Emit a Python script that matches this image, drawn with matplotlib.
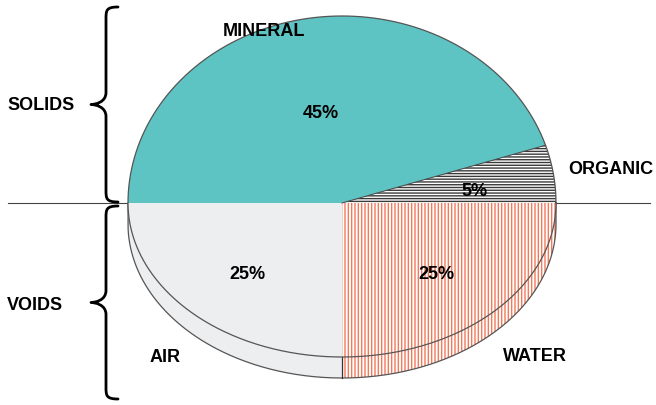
import numpy as np
import matplotlib
matplotlib.use("Agg")
import matplotlib.pyplot as plt
from matplotlib.patches import Polygon, PathPatch
from matplotlib.path import Path

# Soil composition by volume, listed counter-clockwise from the 3 o'clock position
categories = ["ORGANIC", "MINERAL", "AIR", "WATER"]
shares = [5, 45, 25, 25]
groups = ["SOLIDS", "VOIDS"]

# Styling / layout (pixel coordinates, y grows downward)
W, H = 656, 406
CX, CY = 342, 204          # pie centre
A = 214                    # horizontal semi-axis
B_UP, B_LO = 187, 154      # vertical semi-axes of upper / lower half
DEPTH = 21                 # visible thickness of the disc
EDGE = "#555555"
FONT = dict(family=["Liberation Sans", "DejaVu Sans"], weight="bold", size=13)

styles = {
    "ORGANIC": dict(facecolor="white", edgecolor="#3a3a3a", hatch="------"),
    "MINERAL": dict(facecolor="#5ec4c3", edgecolor="#5ec4c3", hatch=None),
    "AIR": dict(facecolor="#eceeef", edgecolor="#eceeef", hatch=None),
    "WATER": dict(facecolor="white", edgecolor="#f2795a", hatch="|||||"),
}
name_pos = {"ORGANIC": (568, 170, "left"), "MINERAL": (264, 32, "center"),
            "AIR": (165, 358, "center"), "WATER": (503, 357, "left")}
pct_pos = {"ORGANIC": (474, 192), "MINERAL": (321, 113),
           "AIR": (247, 275), "WATER": (436, 275)}
group_pos = {"SOLIDS": (7, 106, 8, 203), "VOIDS": (7, 306, 207, 400)}

plt.rcParams["hatch.linewidth"] = 1.0


def rim(theta_deg, dy=0.0):
    t = np.radians(theta_deg)
    s = np.sin(t)
    b = np.where(s >= 0, B_UP, B_LO)
    return CX + A * np.cos(t), CY - b * s + dy


fig = plt.figure(figsize=(W / 100, H / 100), dpi=100)
ax = fig.add_axes([0, 0, 1, 1])
ax.set_xlim(0, W)
ax.set_ylim(H, 0)
ax.axis("off")

# horizontal dividing line between solids and voids
ax.plot([8, 650], [CY, CY], color="#444444", lw=0.8, zorder=1)

bounds = np.concatenate([[0], np.cumsum(shares)]) / np.sum(shares) * 360.0

# side of the disc (only the lower, front half is visible)
for name, t0, t1 in zip(categories, bounds[:-1], bounds[1:]):
    lo, hi = max(t0, 180.0), min(t1, 360.0)
    if hi <= lo:
        continue
    th = np.linspace(lo, hi, 120)
    xt, yt = rim(th)
    xb, yb = rim(th[::-1], DEPTH)
    pts = np.column_stack([np.concatenate([xt, xb]), np.concatenate([yt, yb])])
    st = styles[name]
    ax.add_patch(Polygon(pts, closed=True, facecolor=st["facecolor"],
                         edgecolor=st["edgecolor"], hatch=st["hatch"],
                         lw=0, zorder=2))

# outline of the side
th = np.linspace(180, 360, 300)
xb, yb = rim(th, DEPTH)
ax.plot(np.concatenate([[CX - A], xb, [CX + A]]),
        np.concatenate([[CY], yb, [CY]]), color=EDGE, lw=0.9, zorder=3)
xd, yd = rim(np.array([270.0]))
ax.plot([xd[0], xd[0]], [yd[0], yd[0] + DEPTH], color="#333333", lw=0.9, zorder=3)

# top face wedges
for name, t0, t1, v in zip(categories, bounds[:-1], bounds[1:], shares):
    th = np.linspace(t0, t1, 200)
    xs, ys = rim(th)
    pts = np.column_stack([np.concatenate([[CX], xs]), np.concatenate([[CY], ys])])
    st = styles[name]
    ax.add_patch(Polygon(pts, closed=True, facecolor=st["facecolor"],
                         edgecolor=st["edgecolor"], hatch=st["hatch"],
                         lw=0, zorder=4))

# boundary between mineral and organic
xm, ym = rim(np.array([bounds[1]]))
ax.plot([CX, xm[0]], [CY, ym[0]], color="#444444", lw=0.7, zorder=5)

# outline of the top face
th = np.linspace(0, 360, 600)
xs, ys = rim(th)
ax.plot(xs, ys, color=EDGE, lw=0.9, zorder=5)

# category names and percentages
for name, v in zip(categories, shares):
    x, y, ha = name_pos[name]
    ax.text(x, y, name, ha=ha, va="center", zorder=6, **FONT)
    px, py = pct_pos[name]
    ax.text(px, py, f"{v}%", ha="center", va="center", zorder=6, **FONT)


def brace(top, bottom, x_body=106, x_end=118, x_tip=91, r=12):
    mid = (top + bottom) / 2
    verts = [(x_end, top),
             (x_body, top), (x_body, top + r * 0.3), (x_body, top + r),
             (x_body, mid - r),
             (x_body, mid - 2), (x_tip + 4, mid), (x_tip, mid),
             (x_tip + 4, mid), (x_body, mid + 2), (x_body, mid + r),
             (x_body, bottom - r),
             (x_body, bottom - r * 0.3), (x_body, bottom), (x_end, bottom)]
    codes = [Path.MOVETO,
             Path.CURVE4, Path.CURVE4, Path.CURVE4,
             Path.LINETO,
             Path.CURVE4, Path.CURVE4, Path.CURVE4,
             Path.CURVE4, Path.CURVE4, Path.CURVE4,
             Path.LINETO,
             Path.CURVE4, Path.CURVE4, Path.CURVE4]
    ax.add_patch(PathPatch(Path(verts, codes), facecolor="none",
                           edgecolor="black", lw=2.0, zorder=6,
                           capstyle="round", joinstyle="round"))


for g in groups:
    tx, ty, b0, b1 = group_pos[g]
    ax.text(tx, ty, g, ha="left", va="center", zorder=6, **FONT)
    brace(b0, b1)

fig.savefig("out.png", dpi=100)
